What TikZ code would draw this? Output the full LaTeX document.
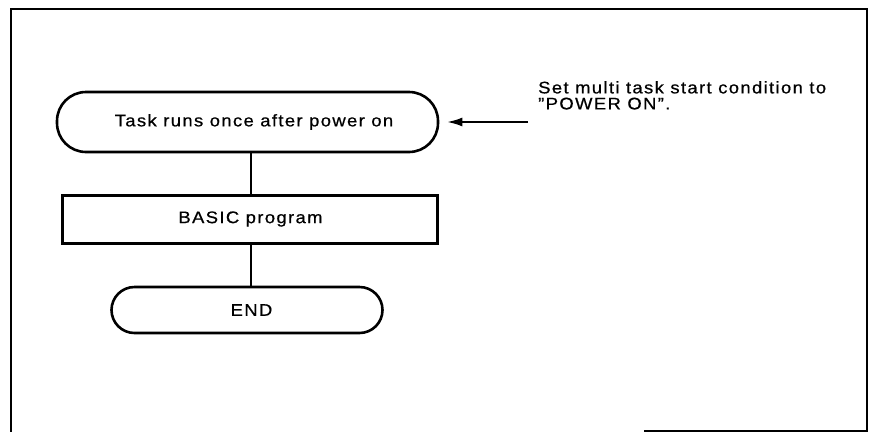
\documentclass[tikz,border=0pt]{standalone}
\usepackage{fontspec}
\setmainfont{Liberation Sans}
\newfontfamily\lblfont[FakeStretch=1.1,LetterSpace=8,FakeBold=0.6]{Liberation Sans}
\usetikzlibrary{arrows.meta}
\begin{document}
\begin{tikzpicture}[x=1pt,y=-1pt,
  every node/.style={font=\lblfont\fontsize{16.8}{19}\selectfont},
  terminal/.style={draw, line width=2.6pt, rounded corners=29pt, inner sep=0pt},
  procbox/.style={draw, line width=3pt, inner sep=0pt},
  link/.style={line width=1.8pt},
  frameline/.style={line width=1.8pt}]
\useasboundingbox (0,0) rectangle (869,432);
% outer frame
\draw[frameline] (644,431) -- (867,431) -- (867,9) -- (11,9) -- (11,432);
% flowchart
\node[terminal, minimum width=381pt, minimum height=60pt] (start) at (247.5,122) {\hspace*{13pt}Task runs once after power on};
\node[procbox, minimum width=375pt, minimum height=48pt] (prog) at (249.5,219) {\hspace*{2pt}BASIC program};
\node[terminal, rounded corners=23pt, minimum width=271pt, minimum height=46pt] (stop) at (247,310) {\hspace*{9pt}END};
\draw[link] (start.south -| 251,0) -- (prog.north -| 251,0);
\draw[link] (prog.south -| 251,0) -- (stop.north -| 251,0);
% note on the start condition
\node[anchor=north west, align=left, inner sep=0pt] (note) at (538,81) {Set multi task start condition to\\[-3pt]”POWER ON”.};
\coordinate (notetail) at (528,122);
\draw[link, -{Latex[length=15pt,width=9pt]}, shorten >=8pt] (notetail) -- (start.east);
\end{tikzpicture}
\end{document}
